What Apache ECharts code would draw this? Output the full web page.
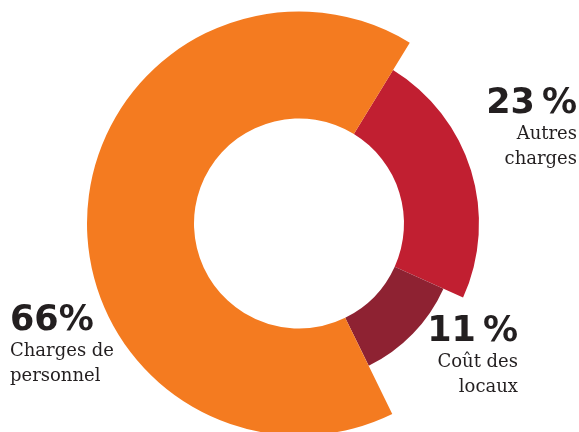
<!DOCTYPE html>
<html>
<head>
<meta charset="utf-8">
<script src="https://cdn.jsdelivr.net/npm/echarts@6/dist/echarts.min.js"></script>
<style>
html,body{margin:0;padding:0;width:579px;height:432px;overflow:hidden;background:#fff;}
#c{width:579px;height:432px;}
</style>
</head>
<body>
<div id="c"></div>
<script>
// ---- data ----
const categories = ['Autres charges', 'Coût des locaux', 'Charges de personnel'];
const values = [23, 11, 66];
const percentSep = ['\u2009', '\u2009', ''];
const labelLines = [['Autres', 'charges'], ['Coût des', 'locaux'], ['Charges de', 'personnel']];

// ---- style / layout ----
const colors = ['#C11F31', '#8E2232', '#F47B20'];
const outerR = [180, 158.5, 212];
const innerR = 105;
const center = [299, 223.5];
const labelPos = [
  { x: 577, y: 116, align: 'right' },
  { x: 518, y: 344, align: 'right' },
  { x: 10, y: 333, align: 'left' }
];

const chart = echarts.init(document.getElementById('c'), null, { renderer: 'canvas' });

const series = categories.map((cat, i) => ({
  type: 'pie',
  center: center,
  radius: [innerR, outerR[i]],
  startAngle: 58.5,
  clockwise: true,
  silent: true,
  animation: false,
  label: { show: false },
  labelLine: { show: false },
  emphasis: { disabled: true },
  itemStyle: { borderWidth: 0 },
  data: categories.map((c, j) => ({
    name: c,
    value: values[j],
    itemStyle: { color: j === i ? colors[i] : 'rgba(0,0,0,0)', borderWidth: 0 }
  }))
}));

const graphics = [];
categories.forEach((cat, i) => {
  const p = labelPos[i];
  graphics.push({
    type: 'text',
    x: p.x, y: p.y - 12,
    silent: true,
    style: {
      text: values[i] + percentSep[i] + '%',
      font: 'bold 35px "DejaVu Sans"',
      fill: '#231F20',
      align: p.align,
      verticalAlign: 'middle'
    }
  });
  labelLines[i].forEach((ln, k) => {
    graphics.push({
      type: 'text',
      x: p.x, y: p.y + 24 + k * 25.5 - 6,
      silent: true,
      style: {
        text: ln,
        font: '18px "DejaVu Serif"',
        fill: '#231F20',
        align: p.align,
        verticalAlign: 'middle'
      }
    });
  });
});

chart.setOption({
  animation: false,
  backgroundColor: '#fff',
  series: series,
  graphic: graphics
});
</script>
</body>
</html>
